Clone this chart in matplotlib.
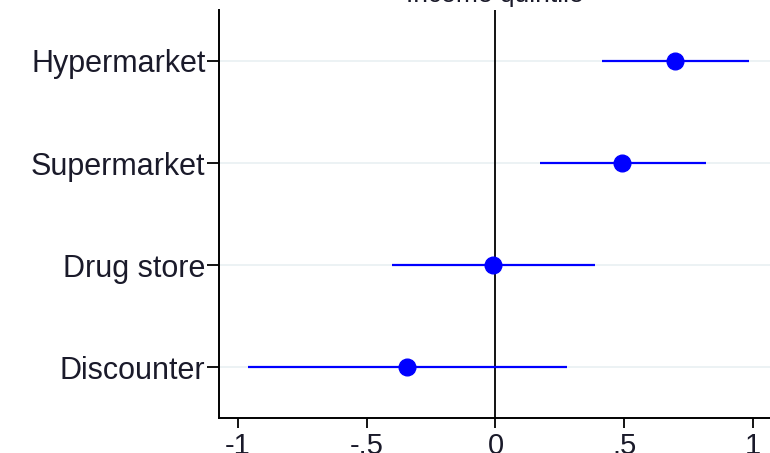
import matplotlib
matplotlib.use("Agg")
import matplotlib.pyplot as plt

# store formats, bottom to top
formats = ["Discounter", "Drug store", "Supermarket", "Hypermarket"]
coef = [-0.343, -0.01, 0.49, 0.696]
ci_low = [-0.963, -0.40, 0.172, 0.413]
ci_high = [0.277, 0.386, 0.816, 0.983]
xticks = [-1, -0.5, 0, 0.5, 1]
xticklabels = ["-1", "-.5", "0", ".5", "1"]

plt.rcParams["font.family"] = ["Liberation Sans", "DejaVu Sans"]

fig = plt.figure(figsize=(7.7, 4.53), dpi=100)
ax = fig.add_axes([0.285, 0.077, 0.715, 0.901])

ypos = list(range(1, len(formats) + 1))

for y in ypos:
    ax.axhline(y, color="#e9f0f2", lw=1.2, zorder=0)
ax.axvline(0, color="black", lw=1.3, zorder=1)

ax.hlines(ypos, ci_low, ci_high, color="#0000ff", lw=1.6, zorder=2)
ax.plot(coef, ypos, "o", color="#0000ff", ms=12, zorder=3)

ax.set_xlim(-1.072, 1.066)
ax.set_ylim(0.5, 4.5)
ax.set_yticks(ypos)
ax.set_yticklabels(formats, fontsize=22, color="#1a1a2a")
ax.set_xticks(xticks)
ax.set_xticklabels(xticklabels, fontsize=21, color="#1a1a2a")
ax.tick_params(axis="y", length=9, width=1.3, pad=1)
ax.tick_params(axis="x", length=7, width=1.3, pad=3)

for side in ["top", "right"]:
    ax.spines[side].set_visible(False)
for side in ["left", "bottom"]:
    ax.spines[side].set_linewidth(1.4)

fig.text(0.643, 1 - 2 / 453, "Income quintile", fontsize=19,
         ha="center", va="baseline", color="#1a1a2a")

fig.savefig("out.png", dpi=100)
